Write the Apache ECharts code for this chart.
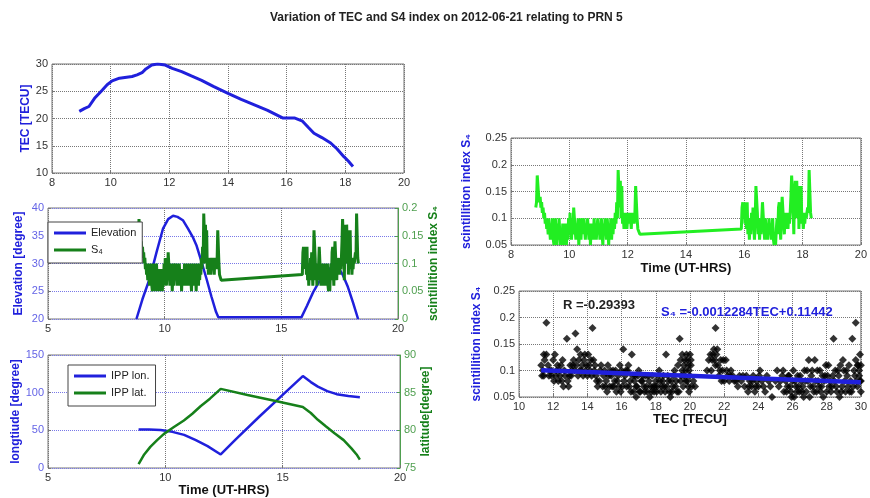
<!DOCTYPE html>
<html>
<head>
<meta charset="utf-8">
<script src="https://cdn.jsdelivr.net/npm/echarts@6/dist/echarts.min.js"></script>
<style>
  html, body { margin:0; padding:0; background:#fff; }
  #fig { width:870px; height:498px; }
</style>
</head>
<body>
<div id="fig"></div>
<script>
// ---- data ----
// TEC [TECU] vs time (UT hours)
const tecSeries = [[8.93,21.3],[9.1,21.8],[9.26,22.2],[9.45,23.7],[9.71,25.2],[9.88,26.2],[10.05,26.9],[10.3,27.4],[10.73,27.7],[10.9,28.0],
  [11.07,28.4],[11.2,29.1],[11.4,29.8],[11.6,30.0],[11.86,29.8],[12.1,29.2],[12.42,28.6],[12.75,27.8],[13.1,27.0],[13.5,25.9],
  [14.0,24.6],[14.45,23.5],[14.9,22.5],[15.35,21.5],[15.86,20.1],[16.26,20.1],[16.54,19.5],[16.75,18.3],[16.93,17.3],[17.2,16.5],
  [17.5,15.5],[17.72,14.4],[17.95,13.0],[18.1,12.2],[18.26,11.2]];

// satellite elevation [degree]
const elevSeries = [[8.79,20],[9.05,23.6],[9.36,27.3],[9.65,32],[9.93,36.3],[10.15,38],[10.36,38.6],[10.55,38.4],[10.78,37.8],
  [11.0,36.3],[11.2,34.8],[11.36,33.3],[11.58,30.3],[11.79,27.3],[12.0,24.1],[12.2,21.3],[12.3,20.3],[15.86,20.3],
  [16.1,22.4],[16.36,24.8],[16.7,27.3],[17.07,29.1],[17.3,29.6],[17.5,28.9],[17.64,27.9],[17.85,25.8],[18.07,23],[18.29,20]];

// S4, sampled every 0.025 h, two tracked passes and the straight stretch between them
const s4SampleHrs = 0.025;
const s4StartA = 8.85;
const s4ValuesA = [0.12,0.13,0.18,0.18,0.14,0.13,0.14,0.12,0.13,0.11,
  0.12,0.10,0.11,0.09,0.10,0.08,0.09,0.07,0.10,0.08,
  0.06,0.09,0.07,0.10,0.06,0.05,0.08,0.10,0.07,0.05,
  0.09,0.06,0.10,0.07,0.05,0.08,0.06,0.09,0.05,0.07,
  0.06,0.09,0.05,0.08,0.06,0.10,0.07,0.11,0.08,0.06,
  0.09,0.07,0.12,0.10,0.08,0.06,0.09,0.07,0.10,0.05,
  0.08,0.10,0.06,0.09,0.10,0.07,0.10,0.08,0.06,0.09,
  0.07,0.10,0.08,0.06,0.09,0.05,0.08,0.07,0.09,0.06,
  0.10,0.07,0.09,0.06,0.08,0.10,0.07,0.09,0.06,0.08,
  0.10,0.07,0.05,0.09,0.07,0.10,0.08,0.06,0.10,0.08,
  0.05,0.09,0.07,0.10,0.06,0.09,0.07,0.10,0.08,0.11,
  0.09,0.13,0.10,0.19,0.19,0.12,0.17,0.10,0.16,0.09,
  0.11,0.08,0.11,0.09,0.11,0.08,0.10,0.11,0.09,0.11,
  0.10,0.08,0.11,0.09,0.11,0.09,0.11,0.16,0.16,0.10,
  0.08];
const s4Gap = [[12.42,0.07]];
const s4StartC = 15.9;
const s4ValuesC = [0.08,0.12,0.13,0.10,0.13,0.09,0.12,0.08,0.13,0.07,
  0.10,0.06,0.09,0.07,0.11,0.08,0.12,0.09,0.06,0.10,
  0.16,0.16,0.11,0.07,0.10,0.06,0.09,0.07,0.10,0.13,
  0.13,0.08,0.06,0.10,0.07,0.09,0.06,0.08,0.10,0.07,
  0.09,0.06,0.08,0.10,0.06,0.05,0.07,0.05,0.08,0.10,
  0.07,0.12,0.13,0.09,0.06,0.11,0.14,0.14,0.09,0.07,
  0.11,0.08,0.10,0.11,0.08,0.11,0.09,0.11,0.14,0.18,
  0.18,0.12,0.07,0.15,0.17,0.10,0.17,0.12,0.16,0.08,
  0.14,0.10,0.16,0.09,0.11,0.08,0.10,0.09,0.11,0.10,
  0.10,0.12,0.11,0.19,0.19,0.11,0.10];

// IPP longitude / latitude [degree]
const ippLon = [[8.86,51],[9.3,51],[9.8,50.5],[10.3,48],[10.8,44],[11.3,37],[11.8,29],[12.36,18],[13.0,38],[14.0,68],
  [15.0,97],[15.86,122],[16.2,114],[16.5,108],[16.9,102],[17.3,98],[17.8,95.5],[18.29,94]];
const ippLat = [[8.86,75.5],[9.1,76.8],[9.36,77.8],[9.65,78.7],[9.93,79.5],[10.35,80.4],[10.79,81.3],[11.15,82.2],[11.5,83.2],
  [11.9,84.2],[12.36,85.5],[13.5,84.7],[14.7,83.9],[15.86,83.1],[16.2,82.3],[16.5,81.4],[16.85,80.5],[17.21,79.6],
  [17.6,78.7],[17.93,77.6],[18.15,76.8],[18.29,76.1]];

// S4 against TEC
const tecS4Points = [[11.3,0.11],[11.35,0.09],[11.4,0.10],[11.45,0.09],[11.45,0.13],[11.5,0.12],[11.6,0.19],[11.6,0.13],[11.7,0.11],
  [11.75,0.09],[11.8,0.10],[11.9,0.09],[11.9,0.10],[12.0,0.12],[12.05,0.08],[12.1,0.13],[12.15,0.09],[12.2,0.10],[12.25,0.11],
  [12.3,0.08],[12.35,0.10],[12.4,0.09],[12.45,0.11],[12.5,0.08],[12.55,0.12],[12.6,0.07],[12.65,0.10],[12.7,0.09],[12.8,0.16],
  [12.85,0.08],[12.9,0.07],[12.95,0.09],[13.0,0.11],[13.05,0.09],[13.1,0.10],[13.15,0.11],[13.2,0.12],[13.25,0.10],[13.3,0.17],
  [13.35,0.11],[13.4,0.14],[13.45,0.09],[13.5,0.12],[13.55,0.10],[13.6,0.13],[13.65,0.10],[13.7,0.11],[13.75,0.09],[13.8,0.12],
  [13.85,0.13],[13.9,0.10],[13.95,0.11],[14.0,0.09],[14.05,0.13],[14.1,0.11],[14.15,0.10],[14.2,0.12],[14.25,0.09],[14.3,0.18],
  [14.35,0.12],[14.4,0.10],[14.45,0.11],[14.5,0.09],[14.55,0.08],[14.6,0.07],[14.7,0.08],[14.75,0.10],[14.8,0.11],[14.9,0.07],
  [14.95,0.09],[15.0,0.10],[15.05,0.07],[15.1,0.08],[15.15,0.06],[15.2,0.11],[15.25,0.09],[15.3,0.07],[15.35,0.10],[15.4,0.09],
  [15.45,0.07],[15.5,0.10],[15.55,0.07],[15.6,0.08],[15.65,0.10],[15.7,0.06],[15.75,0.08],[15.8,0.09],[15.85,0.07],[15.9,0.11],
  [15.95,0.06],[16.0,0.10],[16.05,0.07],[16.1,0.14],[16.15,0.08],[16.2,0.09],[16.25,0.10],[16.3,0.07],[16.35,0.10],[16.4,0.11],
  [16.45,0.07],[16.5,0.08],[16.55,0.06],[16.6,0.13],[16.65,0.09],[16.7,0.06],[16.75,0.08],[16.8,0.09],[16.85,0.05],[16.85,0.07],
  [16.9,0.07],[16.95,0.09],[17.0,0.10],[17.05,0.06],[17.1,0.06],[17.15,0.08],[17.2,0.08],[17.25,0.09],[17.3,0.07],[17.35,0.06],
  [17.4,0.09],[17.45,0.07],[17.5,0.06],[17.55,0.09],[17.6,0.08],[17.65,0.05],[17.7,0.07],[17.75,0.06],[17.8,0.09],[17.85,0.07],
  [17.9,0.06],[17.95,0.07],[18.0,0.08],[18.05,0.06],[18.1,0.07],[18.15,0.09],[18.2,0.10],[18.25,0.08],[18.3,0.06],[18.35,0.07],
  [18.4,0.08],[18.45,0.09],[18.5,0.07],[18.55,0.06],[18.6,0.13],[18.65,0.07],[18.7,0.09],[18.75,0.08],[18.8,0.06],[18.85,0.05],
  [18.9,0.08],[18.95,0.06],[19.0,0.07],[19.05,0.09],[19.1,0.10],[19.15,0.07],[19.2,0.08],[19.25,0.06],[19.3,0.11],[19.35,0.06],
  [19.4,0.16],[19.45,0.12],[19.45,0.08],[19.5,0.09],[19.55,0.13],[19.55,0.10],[19.6,0.07],[19.65,0.09],[19.65,0.11],[19.7,0.12],
  [19.75,0.10],[19.75,0.08],[19.8,0.13],[19.85,0.08],[19.85,0.12],[19.9,0.11],[19.9,0.07],[19.95,0.06],[19.95,0.10],[20.0,0.13],
  [20.0,0.09],[20.05,0.11],[20.05,0.12],[20.1,0.07],[20.2,0.08],[20.3,0.07],[21.0,0.10],[21.1,0.12],[21.2,0.13],[21.25,0.10],
  [21.3,0.12],[21.35,0.13],[21.4,0.14],[21.45,0.12],[21.5,0.18],[21.5,0.11],[21.55,0.13],[21.6,0.14],[21.65,0.11],[21.7,0.09],
  [21.75,0.10],[21.8,0.12],[21.85,0.08],[21.9,0.10],[21.95,0.12],[22.0,0.08],[22.1,0.12],[22.15,0.10],[22.2,0.09],[22.3,0.08],
  [22.35,0.09],[22.4,0.10],[22.5,0.09],[22.6,0.08],[22.7,0.08],[22.8,0.07],[22.9,0.09],[23.0,0.08],[23.1,0.09],[23.2,0.07],
  [23.3,0.09],[23.4,0.06],[23.45,0.07],[23.5,0.08],[23.6,0.07],[23.65,0.08],[23.7,0.09],[23.8,0.06],[23.85,0.07],[23.9,0.08],
  [24.0,0.07],[24.05,0.09],[24.1,0.10],[24.2,0.08],[24.3,0.07],[24.4,0.06],[24.5,0.09],[24.6,0.08],[24.7,0.07],[24.8,0.05],
  [25.0,0.08],[25.1,0.10],[25.2,0.07],[25.3,0.08],[25.4,0.09],[25.45,0.10],[25.5,0.06],[25.6,0.08],[25.65,0.06],[25.7,0.07],
  [25.75,0.09],[25.8,0.09],[25.85,0.07],[25.9,0.06],[25.95,0.05],[26.0,0.08],[26.05,0.10],[26.1,0.05],[26.15,0.08],[26.2,0.07],
  [26.25,0.06],[26.3,0.09],[26.35,0.07],[26.4,0.06],[26.45,0.09],[26.5,0.08],[26.55,0.06],[26.6,0.07],[26.65,0.05],[26.7,0.10],
  [26.75,0.08],[26.8,0.06],[26.85,0.10],[26.9,0.08],[26.95,0.12],[27.0,0.05],[27.05,0.07],[27.1,0.09],[27.15,0.10],[27.2,0.07],
  [27.25,0.06],[27.3,0.12],[27.35,0.08],[27.4,0.06],[27.45,0.10],[27.5,0.08],[27.55,0.07],[27.6,0.10],[27.65,0.06],[27.7,0.07],
  [27.75,0.09],[27.8,0.05],[27.85,0.08],[27.9,0.09],[27.95,0.11],[28.0,0.06],[28.05,0.09],[28.1,0.11],[28.15,0.07],[28.2,0.08],
  [28.25,0.06],[28.3,0.07],[28.35,0.09],[28.4,0.16],[28.45,0.08],[28.5,0.10],[28.55,0.07],[28.6,0.06],[28.65,0.10],[28.7,0.09],
  [28.75,0.05],[28.8,0.11],[28.85,0.06],[28.9,0.07],[28.95,0.12],[29.0,0.10],[29.05,0.08],[29.1,0.06],[29.15,0.10],[29.2,0.09],
  [29.25,0.07],[29.3,0.11],[29.35,0.06],[29.4,0.08],[29.45,0.06],[29.5,0.16],[29.55,0.07],[29.6,0.10],[29.65,0.09],[29.7,0.19],
  [29.7,0.12],[29.75,0.08],[29.8,0.07],[29.8,0.11],[29.85,0.11],[29.9,0.09],[29.9,0.10],[29.95,0.08],[29.95,0.13],[30.0,0.11],
  [30.0,0.06],[30.0,0.08]];
// fitted line S4 = -0.0012284 TEC + 0.11442, at the ends of the TEC range
const fitLine = [[11.3,0.1005],[30,0.0776]];

const titleText = 'Variation of TEC and S4 index on 2012-06-21 relating to PRN 5';
const fitText = 'S₄ =-0.0012284TEC+0.11442';
const corrText = 'R =-0.29393';

// ---- build ----
const s4Series = [];
s4ValuesA.forEach((v, i) => s4Series.push([+(s4StartA + i * s4SampleHrs).toFixed(3), v]));
s4Gap.forEach(p => s4Series.push(p));
s4ValuesC.forEach((v, i) => s4Series.push([+(s4StartC + i * s4SampleHrs).toFixed(3), v]));

const FONT = '"Liberation Sans", Arial, sans-serif';
const BLUE = '#2020dc', GREEN = '#16801a', LIME = '#22ee22';
const BLUE_TXT = '#6464e6', GREEN_TXT = '#4f9f4f';

function xAx(grid, min, max, step, name, gap) {
    return {
        type:'value', gridIndex:grid, min:min, max:max, interval:step,
        name:name || '', nameLocation:'middle', nameGap:gap || 0,
        nameTextStyle:{color:'#111', fontWeight:'bold', fontSize:13, fontFamily:FONT},
        axisLine:{show:false},
        axisTick:{show:true, inside:true, length:3, lineStyle:{color:'#777'}},
        axisLabel:{color:'#333', fontSize:11, margin:4, fontFamily:FONT},
        splitLine:{show:true, lineStyle:{type:'dotted', color:'#777'}}
    };
}
function yAx(grid, pos, min, max, step, name, gap, nameColor, labelColor, gridColor) {
    return {
        type:'value', gridIndex:grid, position:pos, min:min, max:max, interval:step,
        name:name, nameLocation:'middle', nameGap:gap,
        nameTextStyle:{color:nameColor, fontWeight:'bold', fontSize:12, fontFamily:FONT},
        axisLine:{show:pos === 'right', lineStyle:{color:labelColor, width:1}},
        axisTick:{show:true, inside:true, length:3, lineStyle:{color:pos === 'right' ? labelColor : '#777'}},
        axisLabel:{color:labelColor, fontSize:11, margin:4, fontFamily:FONT},
        splitLine:{show:!!gridColor, lineStyle:{type:'dotted', color:gridColor || '#777'}}
    };
}
function box(left, top, width, height) {
    return {left:left, top:top, width:width, height:height, show:true, borderColor:'#777', borderWidth:1};
}
function line(name, xi, yi, data, color, width) {
    return {name:name, type:'line', xAxisIndex:xi, yAxisIndex:yi, data:data, showSymbol:false, symbol:'none',
        color:color, lineStyle:{color:color, width:width}};
}
function legendBox(left, top, names) {
    return {
        data:names.map(n => ({name:n, icon:'rect'})), orient:'vertical', left:left, top:top,
        padding:[5,6,7,6], itemGap:5, itemWidth:32, itemHeight:3,
        backgroundColor:'#fff', borderColor:'#444', borderWidth:1,
        textStyle:{fontSize:11, lineHeight:12, color:'#222', fontFamily:FONT}
    };
}

const chart = echarts.init(document.getElementById('fig'));
chart.setOption({
    animation:false,
    backgroundColor:'#fff',
    title:{text:titleText, left:265, top:7, textStyle:{fontSize:12, fontWeight:'bold', color:'#222', fontFamily:FONT}},
    legend:[
        legendBox(48, 222, ['Elevation', 'S₄']),
        legendBox(68, 365, ['IPP lon.', 'IPP lat.'])
    ],
    grid:[
        box(52, 64, 352, 109),
        box(48, 208, 350, 111),
        box(48, 355, 352, 113),
        box(511, 138, 350, 107),
        box(519, 291, 347, 106)
    ],
    xAxis:[
        xAx(0, 8, 20, 2),
        xAx(1, 5, 20, 5),
        xAx(2, 5, 20, 5, 'Time (UT-HRS)', 12),
        xAx(3, 8, 20, 2, 'Time (UT-HRS)', 17),
        xAx(4, 10, 30, 2, 'TEC [TECU]', 15)
    ],
    yAxis:[
        yAx(0, 'left', 10, 30, 5, 'TEC [TECU]', 18, BLUE, '#333', '#777'),
        yAx(1, 'left', 20, 40, 5, 'Elevation [degree]', 23, BLUE, BLUE_TXT, '#7878e8'),
        yAx(1, 'right', 0, 0.2, 0.05, 'scintillition index S₄', 27, GREEN, GREEN_TXT, null),
        yAx(2, 'left', 0, 150, 50, 'longtiude [degree]', 25, BLUE, BLUE_TXT, '#7878e8'),
        yAx(2, 'right', 75, 90, 5, 'latitude[degree]', 17, GREEN, GREEN_TXT, null),
        yAx(3, 'left', 0.05, 0.25, 0.05, 'scintillition index S₄', 38, BLUE, '#333', '#777'),
        yAx(4, 'left', 0.05, 0.25, 0.05, 'scintillition index S₄', 36, BLUE, '#333', '#777')
    ],
    graphic:[
        {type:'text', left:563, top:299, style:{text:corrText, font:'bold 13px ' + FONT, fill:'#222'}},
        {type:'text', left:661, top:306, style:{text:fitText, font:'bold 13px ' + FONT, fill:BLUE}}
    ],
    series:[
        line('TEC', 0, 0, tecSeries, BLUE, 3),
        line('Elevation', 1, 1, elevSeries, BLUE, 2.5),
        line('S₄', 1, 2, s4Series, GREEN, 3),
        line('IPP lon.', 2, 3, ippLon, BLUE, 2.5),
        line('IPP lat.', 2, 4, ippLat, GREEN, 2.5),
        line('S4 time', 3, 5, s4Series, LIME, 3),
        {name:'S4 vs TEC', type:'scatter', xAxisIndex:4, yAxisIndex:6, data:tecS4Points,
            symbol:'diamond', symbolSize:8, itemStyle:{color:'#000'}},
        line('fit', 4, 6, fitLine, BLUE, 4.5)
    ]
});
</script>
</body>
</html>
